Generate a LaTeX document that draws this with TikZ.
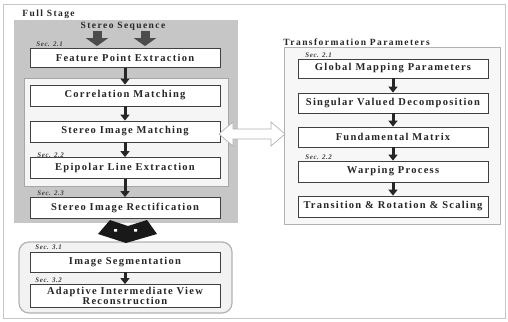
\documentclass[tikz,border=0pt]{standalone}
\usepackage{fontspec}
\setmainfont{Liberation Serif}
\usetikzlibrary{arrows.meta,shapes.arrows,positioning}

\tikzset{every picture/.style={line width=0.8pt}}
\tikzset{
  stepbox/.style={draw=black!75, fill=white, minimum width=190pt,
                  minimum height=#1, inner sep=0pt, align=center, text=black!85,
                  font=\bfseries\fontsize{10.5}{10}\selectfont\addfontfeature{LetterSpace=12}},
  stepbox/.default={19pt}, % most boxes are 19pt high
  sec/.style={anchor=west, inner sep=0pt, text=black!75,
              font=\bfseries\itshape\fontsize{7}{8}\selectfont\addfontfeature{LetterSpace=8}},
  title/.style={anchor=west, inner sep=0pt, text=black!85,
                font=\bfseries\fontsize{9.5}{10.5}\selectfont\addfontfeature{LetterSpace=15}},
  flow/.style={-{Triangle[width=9pt,length=6pt]}, line width=3pt, black!85},
  fat/.style={-{Triangle[width=22pt,length=8pt]}, line width=9pt, black!70},
}
\def\lx{125} % centre of the left column
\def\rx{393} % centre of the right column

\begin{document}
\begin{tikzpicture}[x=1pt, y=-1pt]
  \useasboundingbox (0,0) rectangle (508,321);
  % frame and containers
  \draw[gray!45, line width=0.6pt] (3,4) rectangle (505,318);
  \fill[gray!45] (14,20) rectangle (238,223);
  \draw[gray!70, fill=gray!8] (24,78) rectangle (228,186);
  \draw[gray!60, fill=gray!10, line width=1.2pt, rounded corners=10pt] (19,242) rectangle (232,313);
  \draw[gray!60, fill=gray!6] (284,47) rectangle (500,224);

  % titles
  \node[title] (full) at (22,14) {Full Stage};
  \node[title, anchor=center] (seq) at (123,26) {Stereo Sequence};
  \node[title] (trans) at (283,42) {Transformation Parameters};

  % left column
  \node[stepbox] (fpe) at (\lx,58) {Feature Point Extraction};
  \node[stepbox=21pt] (cm) at (\lx,95.5) {Correlation Matching};
  \node[stepbox=21pt] (sim) at (\lx,131.5) {Stereo Image Matching};
  \node[stepbox=21pt] (ele) at (\lx,168) {Epipolar Line Extraction};
  \node[stepbox=21pt] (sir) at (\lx,208) {Stereo Image Rectification};
  \node[stepbox=20pt] (seg) at (\lx,262) {Image Segmentation};
  \node[stepbox=23pt] (aivr) at (\lx,296) {Adaptive Intermediate View\\Reconstruction};

  % right column
  \node[stepbox] (gmp) at (\rx,68.5) {Global Mapping Parameters};
  \node[stepbox=20pt] (svd) at (\rx,103) {Singular Valued Decomposition};
  \node[stepbox=20pt] (fm) at (\rx,137) {Fundamental Matrix};
  \node[stepbox=21pt] (wp) at (\rx,171.5) {Warping Process};
  \node[stepbox=21pt] (trs) at (\rx,206.5) {Transition \& Rotation \& Scaling};

  % section marks
  \node[sec] (s1) at (36,44) {Sec. 2.1};
  \node[sec] (s2) at (37,155) {Sec. 2.2};
  \node[sec] (s3) at (37,193) {Sec. 2.3};
  \node[sec] (s4) at (35,247) {Sec. 3.1};
  \node[sec] (s5) at (35,280) {Sec. 3.2};
  \node[sec] (s6) at (305,55) {Sec. 2.1};
  \node[sec] (s7) at (305,157) {Sec. 2.2};

  % arrows
  \foreach \x in {97,145}
    \draw[fat, shorten >=2pt] (seq.south -| \x,0) -- (fpe.north -| \x,0);
  \foreach \a/\b in {fpe/cm, cm/sim, sim/ele, ele/sir, seg/aivr,
                     gmp/svd, svd/fm, fm/wp, wp/trs}
    \draw[flow] (\a.south) -- (\b.north);

  % big arrow down to the second stage
  \fill[black!90] (110,220) -- (128,226) -- (147,220) -- (157,234)
                  -- (126,243) -- (98,234) -- cycle;
  \fill[white] (114,229) rectangle +(3,2.5) (134,229) rectangle +(3,2.5);

  % hollow double arrow between the stages
  \draw[gray!60, fill=white, line width=0.7pt, line join=miter]
    (219,134) -- (233,122) -- (233,129) -- (271,129) -- (271,122) -- (285,134)
    -- (271,146) -- (271,139) -- (233,139) -- (233,146) -- cycle;
\end{tikzpicture}
\end{document}
